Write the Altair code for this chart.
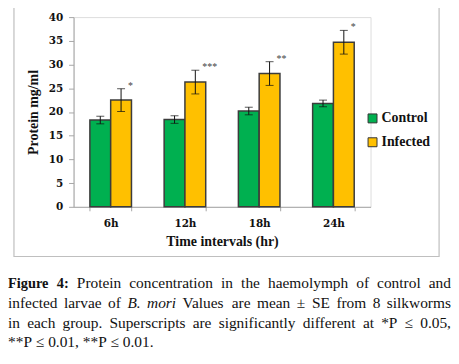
import altair as alt
import pandas as pd

times = ["6h", "12h", "18h", "24h"]
groups = ["Control", "Infected"]
control = [18.3, 18.4, 20.2, 21.8]
infected = [22.5, 26.3, 28.1, 34.7]
control_se = [0.8, 0.8, 0.8, 0.7]
infected_se = [2.4, 2.5, 2.5, 2.5]
stars = ["*", "***", "**", "*"]

caption_lines = [
    "Figure 4: Protein concentration in the haemolymph of control and",
    "infected larvae of B. mori Values are mean ± SE from 8 silkworms",
    "in each group. Superscripts are significantly different at *P ≤ 0.05,",
    "**P ≤ 0.01, **P ≤ 0.01.",
]
bold_words = {(0, 0), (0, 1)}
italic_words = {(1, 3), (1, 4)}
justified = [True, True, True, False]

# Times / Liberation Serif advance widths (per 1000 em), used to justify the caption
REG = {" ": 250, "*": 500, ",": 250, ".": 250, ":": 278, "±": 564, "≤": 549,
       "A": 722, "B": 667, "C": 667, "D": 722, "E": 611, "F": 556, "G": 722, "H": 722,
       "I": 333, "P": 556, "S": 556, "T": 611, "V": 722,
       "a": 444, "b": 500, "c": 444, "d": 500, "e": 444, "f": 333, "g": 500, "h": 500,
       "i": 278, "j": 278, "k": 500, "l": 278, "m": 778, "n": 500, "o": 500, "p": 500,
       "q": 500, "r": 333, "s": 389, "t": 278, "u": 500, "v": 500, "w": 722, "x": 500,
       "y": 500, "z": 444}
BOLD = {"F": 611, "i": 278, "g": 500, "u": 556, "r": 444, "e": 444, "4": 500, ":": 333}
ITAL = {"B": 611, ".": 250, "m": 722, "o": 500, "r": 389, "i": 278}

rows = []
for i, t in enumerate(times):
    rows.append({"time": t, "group": "Control", "value": control[i],
                 "lo": control[i] - control_se[i], "hi": control[i] + control_se[i], "star": ""})
    rows.append({"time": t, "group": "Infected", "value": infected[i],
                 "lo": infected[i] - infected_se[i], "hi": infected[i] + infected_se[i], "star": stars[i]})
df = pd.DataFrame(rows)

W, H = 299, 191
SERIF_B = "Liberation Serif"
TICKF = "DejaVu Serif"

x = alt.X("time:N", sort=times,
          scale=alt.Scale(paddingInner=0.44, paddingOuter=0.22),
          axis=alt.Axis(title="Time intervals (hr)", labelAngle=0, tickBand="extent",
                        domainColor="#a6a6a6", tickColor="#a6a6a6", tickSize=4,
                        labelFont=TICKF, labelFontWeight="bold", labelFontSize=10.5,
                        labelColor="#111", labelPadding=8,
                        titleFont=SERIF_B, titleFontWeight="bold", titleFontSize=14,
                        titleColor="#111", titlePadding=5))
xo = alt.XOffset("group:N", sort=groups, scale=alt.Scale(paddingInner=0, paddingOuter=0))
yscale = alt.Scale(domain=[0, 40], nice=False)
yaxis = alt.Axis(title="Protein mg/ml", values=list(range(0, 41, 5)), grid=False,
                 labelOverlap=False,
                 domainColor="#a6a6a6", tickColor="#a6a6a6", tickSize=5,
                 labelFont=TICKF, labelFontWeight="bold", labelFontSize=10.5,
                 labelColor="#111", labelPadding=6,
                 titleFont=SERIF_B, titleFontWeight="bold", titleFontSize=14,
                 titleColor="#111", titlePadding=8)

base = alt.Chart(df)

bars = base.mark_bar(stroke="#3c3c3c", strokeWidth=1.5).encode(
    x=x, xOffset=xo,
    y=alt.Y("value:Q", scale=yscale, axis=yaxis),
    color=alt.Color("group:N", sort=groups,
                    scale=alt.Scale(domain=groups, range=["#00B050", "#FFC000"]),
                    legend=alt.Legend(title=None, orient="none", legendX=294, legendY=95,
                                      symbolType="square", symbolSize=81,
                                      symbolStrokeColor="#333", symbolStrokeWidth=1,
                                      labelFont=SERIF_B, labelFontWeight="bold",
                                      labelFontSize=14, labelColor="#111",
                                      labelOffset=2, rowPadding=10, padding=0)),
)

err = base.mark_rule(color="#111", strokeWidth=1).encode(
    x=x, xOffset=xo, y=alt.Y("lo:Q", scale=yscale, axis=yaxis), y2="hi:Q")
cap_lo = base.mark_tick(color="#111", thickness=1, size=8).encode(
    x=x, xOffset=xo, y=alt.Y("lo:Q", scale=yscale, axis=yaxis))
cap_hi = base.mark_tick(color="#111", thickness=1, size=8).encode(
    x=x, xOffset=xo, y=alt.Y("hi:Q", scale=yscale, axis=yaxis))
star_text = base.mark_text(align="left", baseline="bottom", dx=7, dy=2,
                           fontSize=10, font=SERIF_B, color="#444").encode(
    x=x, xOffset=xo, y=alt.Y("hi:Q", scale=yscale, axis=yaxis), text="star:N")

one = pd.DataFrame({"a": [0]})
border = alt.Chart(one).mark_rect(fill=None, stroke="#bfbfbf", strokeWidth=1.2).encode(
    x=alt.value(-60), x2=alt.value(368), y=alt.value(-12), y2=alt.value(241))

# caption layout (justified between LEFT and RIGHT, in plot-area pixels)
LEFT, RIGHT = -66, 380
REG_SIZE, BOLD_SIZE = 15.5, 14.5
line_y = [272.5, 292.5, 312.5, 332.5]


def word_width(word, bold, italic):
    size = BOLD_SIZE if bold else REG_SIZE
    table = BOLD if bold else (ITAL if italic else REG)
    return sum(table.get(ch, REG.get(ch, 500)) for ch in word) / 1000 * size


captions = []
for ln, line in enumerate(caption_lines):
    words = line.split(" ")
    styles = [((ln, k) in bold_words, (ln, k) in italic_words) for k in range(len(words))]
    widths = [word_width(w, b, it) for w, (b, it) in zip(words, styles)]
    if justified[ln] and len(words) > 1:
        gap = (RIGHT - LEFT - sum(widths)) / (len(words) - 1)
    else:
        gap = REG["\u0020"] / 1000 * REG_SIZE
    xpos = LEFT
    for w, (b, it), wd in zip(words, styles, widths):
        captions.append(
            alt.Chart(one).mark_text(align="left", baseline="alphabetic",
                                     font="Liberation Serif",
                                     fontSize=BOLD_SIZE if b else REG_SIZE,
                                     fontWeight="bold" if b else "normal",
                                     fontStyle="italic" if it else "normal",
                                     color="#111", text=w).encode(
                x=alt.value(round(xpos, 1)), y=alt.value(line_y[ln])))
        xpos += wd + gap

chart = alt.layer(border, bars, err, cap_lo, cap_hi, star_text, *captions).properties(
    width=W, height=H,
    autosize=alt.AutoSizeParams(type="none"),
    padding={"left": 66, "top": 8, "right": 81, "bottom": 146},
).configure_view(stroke=None).configure(background="white")

chart.save("out.html", embed_options={"renderer": "svg", "actions": False})
